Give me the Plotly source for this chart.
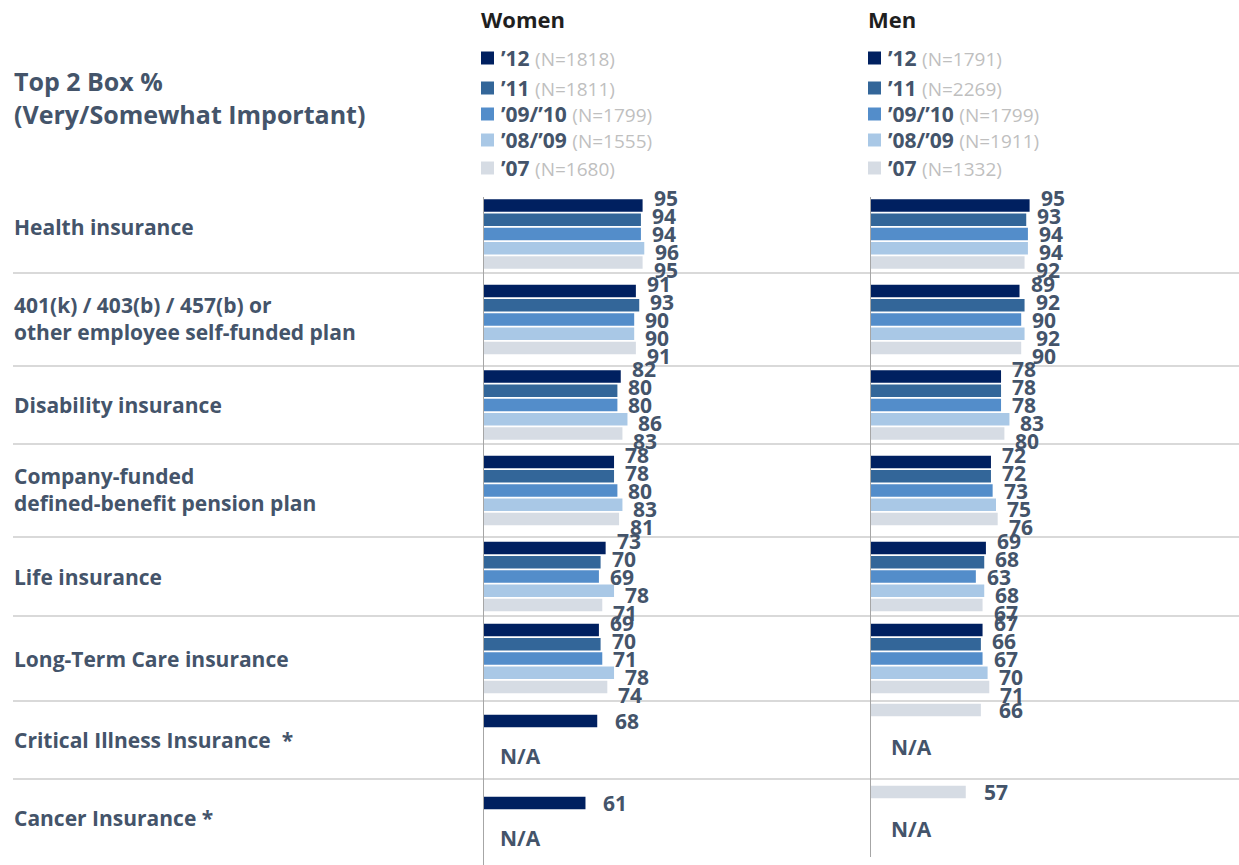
import plotly.graph_objects as go

# ---- data -----------------------------------------------------------------
categories = [
    "Health insurance",
    "401(k) / 403(b) / 457(b) or<br>other employee self-funded plan",
    "Disability insurance",
    "Company-funded<br>defined-benefit pension plan",
    "Life insurance",
    "Long-Term Care insurance",
    "Critical Illness Insurance  *",
    "Cancer Insurance *",
]
years = ["’12", "’11", "’09/’10", "’08/’09", "’07"]

women_n = [1818, 1811, 1799, 1555, 1680]
men_n = [1791, 2269, 1799, 1911, 1332]

women_12 = [95, 91, 82, 78, 73, 69, 68, 61]
women_11 = [94, 93, 80, 78, 70, 70, None, None]
women_0910 = [94, 90, 80, 80, 69, 71, None, None]
women_0809 = [96, 90, 86, 83, 78, 78, None, None]
women_07 = [95, 91, 83, 81, 71, 74, None, None]

men_12 = [95, 89, 78, 72, 69, 67, None, None]
men_11 = [93, 92, 78, 72, 68, 66, None, None]
men_0910 = [94, 90, 78, 73, 63, 67, None, None]
men_0809 = [94, 92, 83, 75, 68, 70, None, None]
men_07 = [92, 90, 80, 76, 67, 71, 66, 57]

women = [women_12, women_11, women_0910, women_0809, women_07]
men = [men_12, men_11, men_0910, men_0809, men_07]

# ---- styling / layout -----------------------------------------------------
W, H = 1239, 865
colors = ["#002060", "#336699", "#538DCA", "#A9C8E6", "#D6DCE4"]
TEXT = "#44546A"
FONT = "Open Sans"

row_edges = [195, 273, 366, 444, 537, 616, 701, 779, 865]
row_centers = [(a + b) / 2 for a, b in zip(row_edges[:-1], row_edges[1:])]
label_nudge = [-7, -1, 0, -1, 0, 0, 0, -4]
BAR_PITCH = 14.3
BAR_W = 12.5
LABEL_PITCH = 18

panels = [
    dict(name="Women", data=women, n=women_n, ax="x", zero=483, title_x=479,
         na_x=498, single_dy=-19, na_dy=35, line_bottom=865),
    dict(name="Men", data=men, n=men_n, ax="x2", zero=870, title_x=866,
         na_x=889, single_dy=-30, na_dy=37, line_bottom=857),
]
PX_PER_UNIT = 1.68
legend_y = [58, 88, 114, 140, 168]

fig = go.Figure()
annotations = []
shapes = []


def px(x):
    return x / W


for p in panels:
    data = p["data"]
    for s, series in enumerate(data):
        ys, xs = [], []
        for r, v in enumerate(series):
            if v is None:
                continue
            full = all(d[r] is not None for d in data)
            if full:
                yb = row_centers[r] + (s - 2) * BAR_PITCH
                yl = row_centers[r] + (s - 2) * LABEL_PITCH
                shift = 9
            else:
                yb = row_centers[r] + p["single_dy"]
                yl = yb
                shift = 16
            ys.append(yb)
            xs.append(v)
            annotations.append(dict(
                x=v, y=yl, xref=p["ax"], yref="y", text=f"<b>{v}</b>",
                showarrow=False, xanchor="left", yanchor="middle", xshift=shift,
                font=dict(family=FONT, size=21, color=TEXT)))
        fig.add_trace(go.Bar(
            x=xs, y=ys, orientation="h", width=BAR_W, xaxis=p["ax"], yaxis="y",
            marker=dict(color=colors[s], line=dict(width=0)),
            showlegend=False, hoverinfo="x"))

    # N/A markers for rows where only one year was asked
    for r in range(len(categories)):
        if any(d[r] is None for d in data):
            annotations.append(dict(
                x=px(p["na_x"]), y=row_centers[r] + p["single_dy"] + p["na_dy"],
                xref="paper", yref="y", text="<b>N/A</b>", showarrow=False,
                xanchor="left", yanchor="middle",
                font=dict(family=FONT, size=21, color=TEXT)))

    # panel title
    annotations.append(dict(
        x=px(p["title_x"]), y=19, xref="paper", yref="y", text=f"<b>{p['name']}</b>",
        showarrow=False, xanchor="left", yanchor="middle",
        font=dict(family=FONT, size=22, color="#1F1F1F")))

    # custom legend
    for s, yr in enumerate(years):
        yy = legend_y[s]
        shapes.append(dict(
            type="rect", xref="paper", yref="y",
            x0=px(p["zero"] - 2), x1=px(p["zero"] + 11), y0=yy - 6.5, y1=yy + 6.5,
            fillcolor=colors[s], line=dict(width=0)))
        annotations.append(dict(
            x=px(p["zero"] + 16), y=yy, xref="paper", yref="y",
            text=f"<b>{yr}</b> <span style='color:#BFBFBF;font-size:19px'>(N={p['n'][s]})</span>",
            showarrow=False, xanchor="left", yanchor="middle",
            font=dict(family=FONT, size=21, color=TEXT)))

    # vertical baseline
    shapes.append(dict(
        type="line", xref=p["ax"], yref="y", x0=0, x1=0, y0=197, y1=p["line_bottom"],
        line=dict(color="#A6A6A6", width=2)))

# row separators
for e in row_edges[1:-1]:
    shapes.append(dict(
        type="line", xref="paper", yref="y", x0=px(13), x1=1, y0=e, y1=e,
        line=dict(color="#D9D9D9", width=2), layer="below"))

# category labels
for r, cat in enumerate(categories):
    annotations.append(dict(
        x=px(12), y=row_centers[r] + label_nudge[r], xref="paper", yref="y",
        text=f"<b>{cat}</b>",
        showarrow=False, xanchor="left", yanchor="middle", align="left",
        font=dict(family=FONT, size=21, color=TEXT)))

# header on the left
annotations.append(dict(
    x=px(12), y=97, xref="paper", yref="y",
    text="<b>Top 2 Box %<br>(Very/Somewhat Important)</b>",
    showarrow=False, xanchor="left", yanchor="middle", align="left",
    font=dict(family=FONT, size=25, color=TEXT)))

axis_common = dict(range=[0, 100], showgrid=False, zeroline=False, showticklabels=False,
                   showline=False, fixedrange=True)
women_dom = [px(483), px(483 + 100 * PX_PER_UNIT)]
men_dom = [px(870), px(870 + 100 * PX_PER_UNIT)]

fig.update_layout(
    width=W, height=H,
    margin=dict(l=0, r=0, t=0, b=0),
    paper_bgcolor="white", plot_bgcolor="white",
    barmode="overlay",
    xaxis=dict(domain=women_dom, **axis_common),
    xaxis2=dict(domain=men_dom, anchor="y", **axis_common),
    yaxis=dict(range=[H, 0], domain=[0, 1], showgrid=False, zeroline=False,
               showticklabels=False, fixedrange=True),
    annotations=annotations,
    shapes=shapes,
    font=dict(family=FONT, color=TEXT),
)

fig.write_html("out.html")
